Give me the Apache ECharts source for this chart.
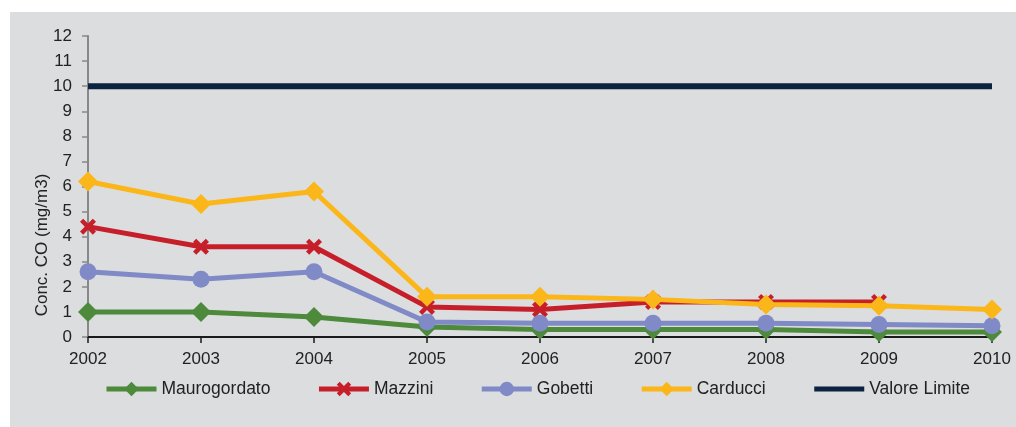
<!DOCTYPE html>
<html>
<head>
<meta charset="utf-8">
<script src="https://cdn.jsdelivr.net/npm/echarts@6/dist/echarts.min.js"></script>
<style>
  html, body { margin: 0; padding: 0; background: #ffffff; }
  #main {
    position: absolute;
    left: 10px;
    top: 12px;
    width: 1006px;
    height: 415px;
    background: #dcdddf;
  }
</style>
</head>
<body>
<div id="main"></div>
<script>
  // dati
  var years = ['2002', '2003', '2004', '2005', '2006', '2007', '2008', '2009', '2010'];
  var maurogordato = [1.0, 1.0, 0.8, 0.4, 0.3, 0.3, 0.3, 0.2, 0.2];
  var mazzini = [4.4, 3.6, 3.6, 1.2, 1.1, 1.4, 1.4, 1.4, null];
  var gobetti = [2.6, 2.3, 2.6, 0.6, 0.55, 0.55, 0.55, 0.5, 0.45];
  var carducci = [6.2, 5.3, 5.8, 1.6, 1.6, 1.5, 1.3, 1.25, 1.1];
  var valoreLimite = [10, 10, 10, 10, 10, 10, 10, 10, 10];

  var crossPath = 'path://M0,2 L2,0 L5,3 L8,0 L10,2 L7,5 L10,8 L8,10 L5,7 L2,10 L0,8 L3,5 Z';
  var font = 'Liberation Sans, Arial, sans-serif';

  var myChart = echarts.init(document.getElementById('main'));

  function serie(name, data, color, symbol, size) {
    return {
      name: name,
      type: 'line',
      data: data,
      symbol: symbol,
      symbolSize: size,
      showSymbol: symbol !== 'none',
      connectNulls: false,
      itemStyle: { color: color },
      lineStyle: { color: color, width: 5 },
      emphasis: { disabled: true },
      animation: false
    };
  }

  var option = {
    animation: false,
    grid: { left: 78, right: 24, top: 24, bottom: 90 },
    legend: {
      bottom: 24,
      left: 89,
      itemWidth: 50,
      itemHeight: 18,
      itemGap: 46,
      lineStyle: { width: 5 },
      textStyle: { fontFamily: font, fontSize: 17.5, color: '#222' },
      data: [
        'Maurogordato', 'Mazzini', 'Gobetti', 'Carducci',
        { name: 'Valore Limite', itemStyle: { color: 'transparent', borderWidth: 0 } }
      ]
    },
    graphic: [{
      type: 'text',
      x: 32,
      y: 233,
      rotation: Math.PI / 2,
      style: {
        text: 'Conc. CO (mg/m3)',
        fontFamily: font,
        fontSize: 17,
        fill: '#222',
        align: 'center',
        verticalAlign: 'middle'
      }
    }],
    xAxis: {
      type: 'category',
      boundaryGap: false,
      data: years,
      axisLine: { show: true, lineStyle: { color: '#1a1a1a', width: 2 } },
      axisTick: { show: true, length: 6, lineStyle: { color: '#1a1a1a', width: 1.5 } },
      axisLabel: { fontFamily: font, fontSize: 17, color: '#222', margin: 14 },
      splitLine: { show: false }
    },
    yAxis: {
      type: 'value',
      min: 0,
      max: 12,
      interval: 1,
      axisLine: { show: true, lineStyle: { color: '#888', width: 2 } },
      axisTick: { show: true, length: 6, lineStyle: { color: '#888', width: 1.5 } },
      axisLabel: { fontFamily: font, fontSize: 17, color: '#222', margin: 16 },
      splitLine: { show: false }
    },
    series: [
      serie('Maurogordato', maurogordato, '#4d8a3b', 'diamond', 20),
      serie('Mazzini', mazzini, '#c61f2a', crossPath, 16),
      serie('Gobetti', gobetti, '#7f8ac6', 'circle', 17),
      serie('Carducci', carducci, '#fbb619', 'diamond', 20),
      serie('Valore Limite', valoreLimite, '#0b2240', 'none', 0)
    ]
  };
  option.series[4].lineStyle.width = 6;

  myChart.setOption(option);
  window.addEventListener('resize', function () {
    myChart.resize();
  });
</script>
</body>
</html>
